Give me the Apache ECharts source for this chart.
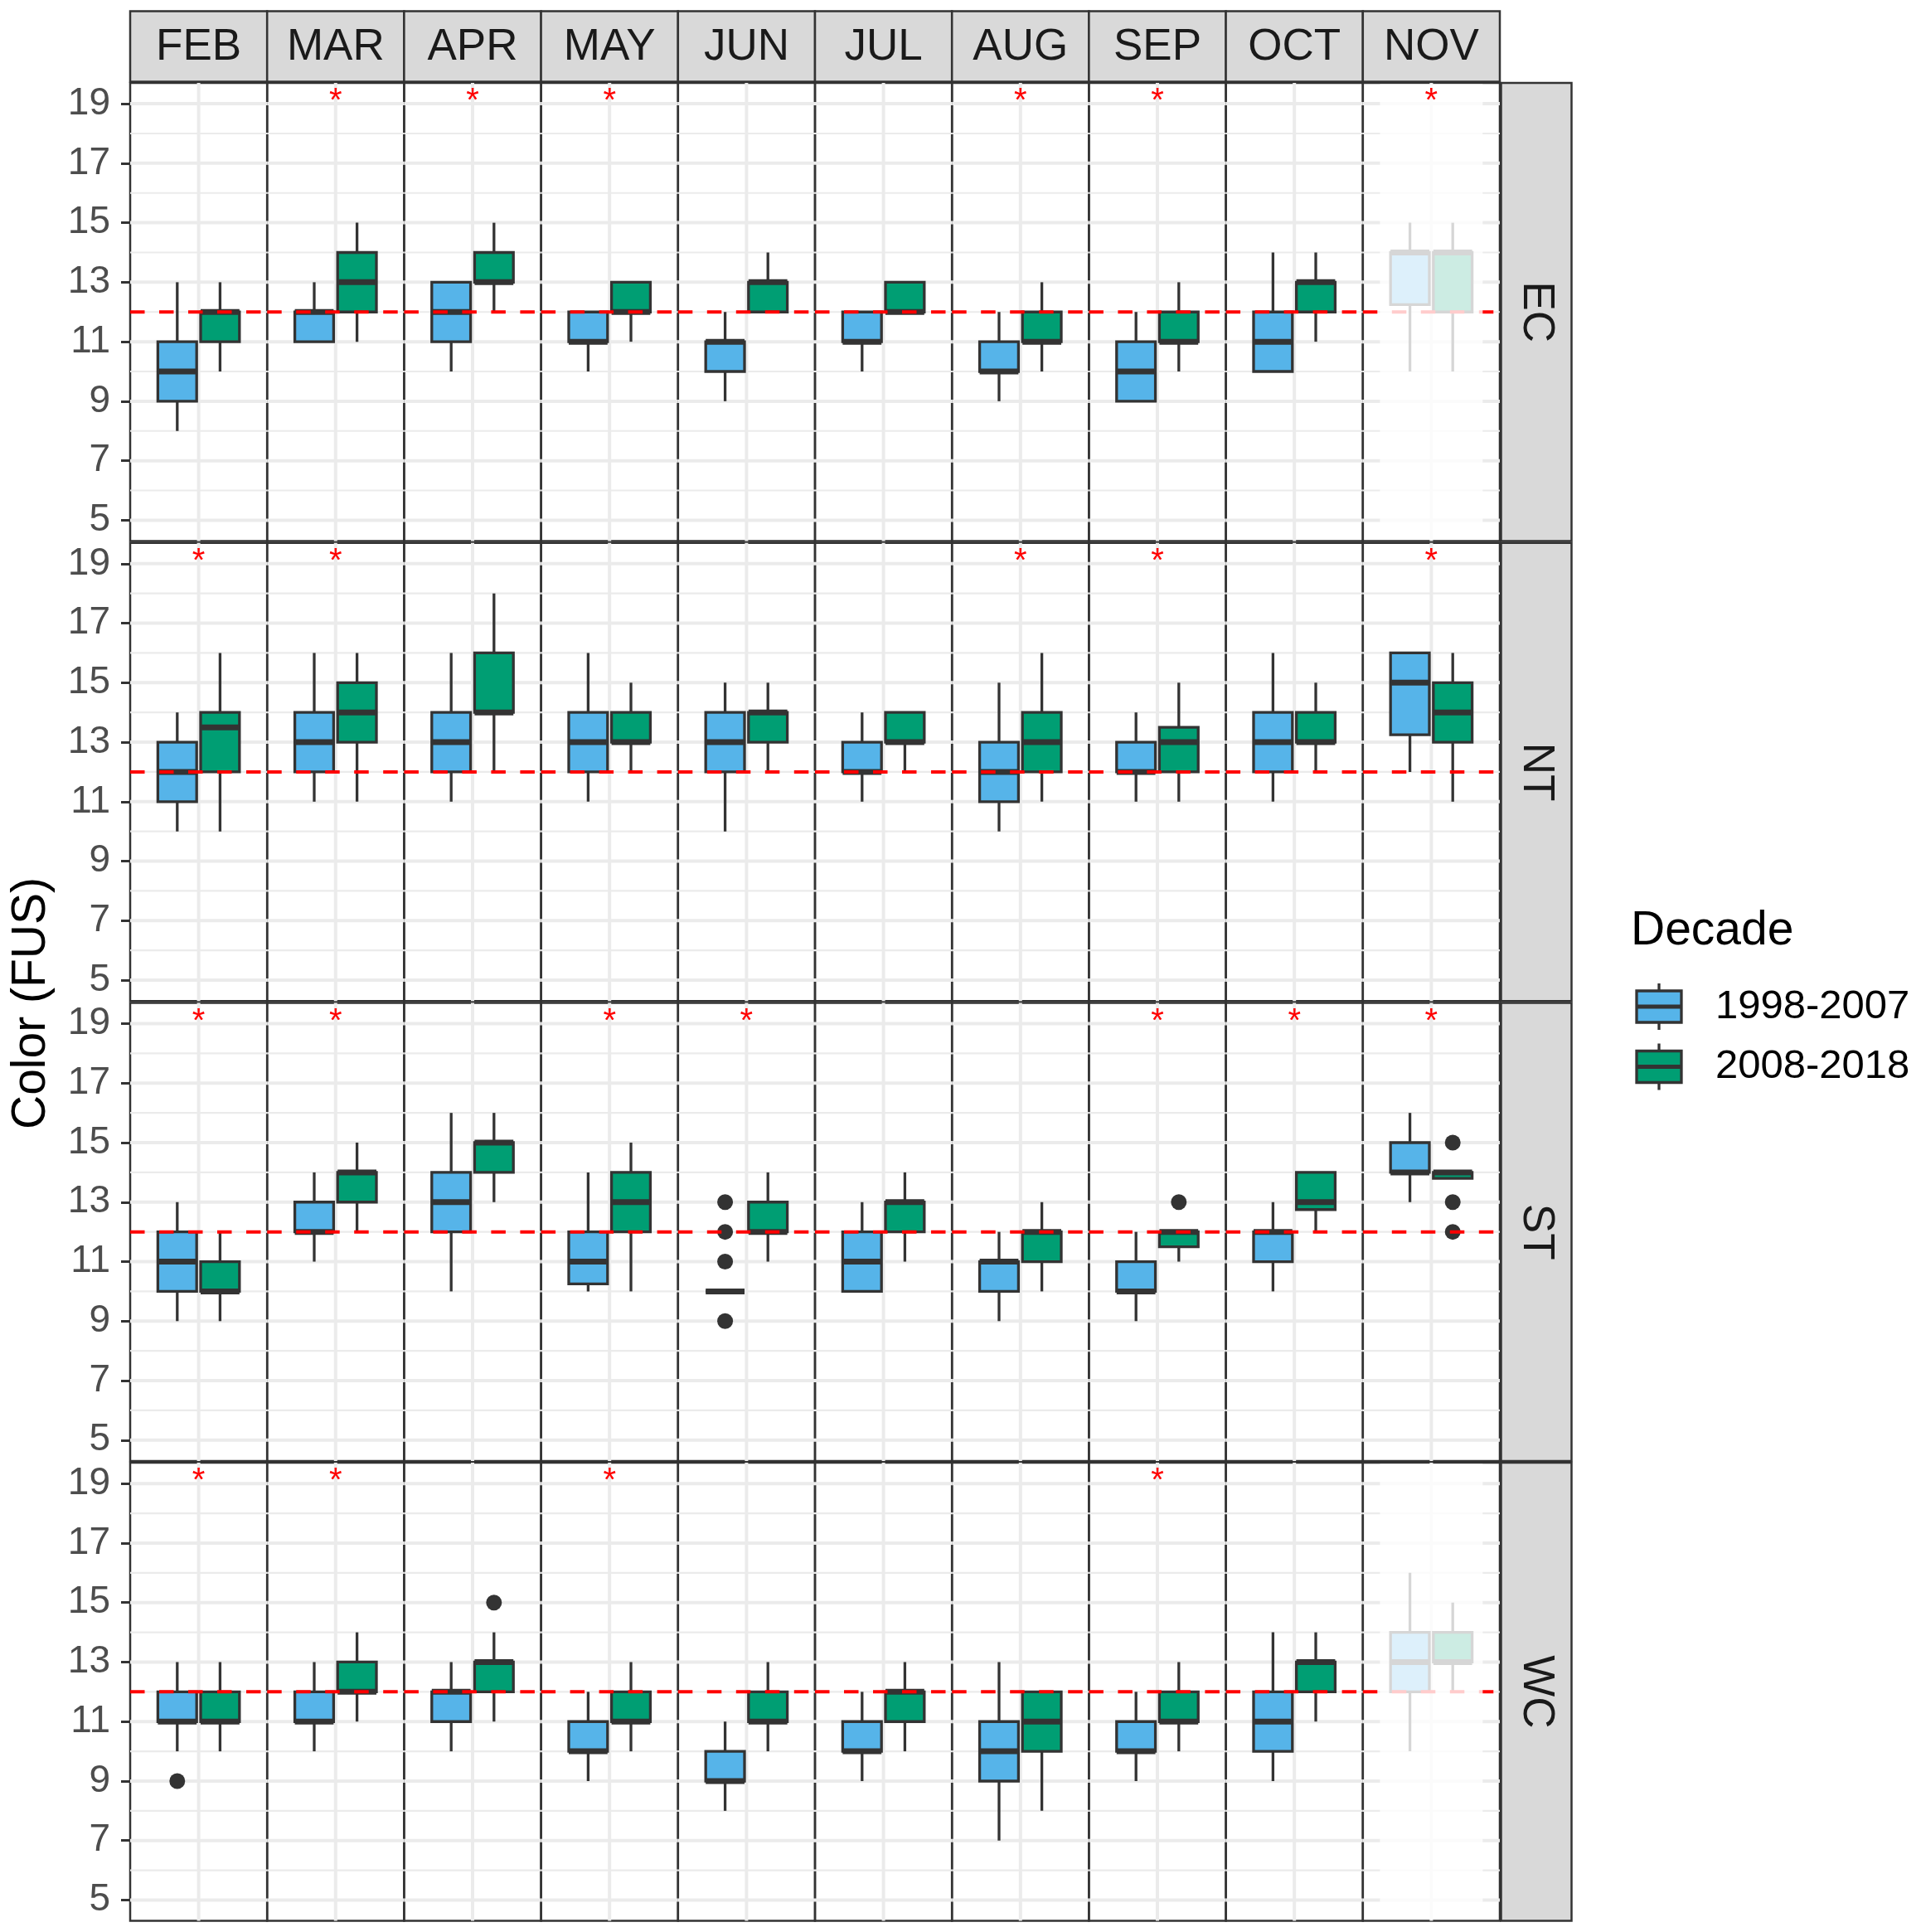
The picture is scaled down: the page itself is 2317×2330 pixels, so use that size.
<!DOCTYPE html>
<html>
<head>
<meta charset="utf-8">
<script src="https://cdn.jsdelivr.net/npm/echarts@6/dist/echarts.min.js"></script>
<style>
html, body { margin: 0; padding: 0; background: #ffffff; }
#chart { width: 2317px; height: 2330px; }
</style>
</head>
<body>
<div id="chart"></div>
<script>
// facet grid of boxplots: rows = regions, columns = months
var months = ['FEB', 'MAR', 'APR', 'MAY', 'JUN', 'JUL', 'AUG', 'SEP', 'OCT', 'NOV'];
var regions = ['EC', 'NT', 'ST', 'WC'];
var decades = ['1998-2007', '2008-2018'];
var decadeColors = ['#56B4E9', '#009E73'];

// per month: [lower whisker, Q1, median, Q3, upper whisker]
var ecEarly = [[8,9,10,11,13],[11,11,12,12,13],[10,11,12,13,13],[10,11,11,12,12],[9,10,11,11,12],[10,11,11,12,12],[9,10,10,11,12],[9,9,10,11,12],[10,10,11,12,14],[10,12.25,14,14,15]];
var ecLate  = [[10,11,12,12,13],[11,12,13,14,15],[12,13,13,14,15],[11,12,12,13,13],[12,12,13,13,14],[12,12,12,13,13],[10,11,11,12,13],[10,11,11,12,13],[11,12,13,13,14],[10,12,14,14,15]];
var ntEarly = [[10,11,12,13,14],[11,12,13,14,16],[11,12,13,14,16],[11,12,13,14,16],[10,12,13,14,15],[11,12,12,13,14],[10,11,12,13,15],[11,12,12,13,14],[11,12,13,14,16],[12,13.25,15,16,16]];
var ntLate  = [[10,12,13.5,14,16],[11,13,14,15,16],[12,14,14,16,18],[12,13,13,14,15],[12,13,14,14,15],[12,13,13,14,14],[11,12,13,14,16],[11,12,13,13.5,15],[12,13,13,14,15],[11,13,14,15,16]];
var stEarly = [[9,10,11,12,13],[11,12,12,13,14],[10,12,13,14,16],[10,10.25,11,12,14],[10,10,10,10,10],[10,10,11,12,13],[9,10,11,11,12],[9,10,10,11,12],[10,11,12,12,13],[13,14,14,15,16]];
var stLate  = [[9,10,10,11,12],[12,13,14,14,15],[13,14,15,15,16],[10,12,13,14,15],[11,12,12,13,14],[11,12,13,13,14],[10,11,12,12,13],[11,11.5,12,12,12],[12,12.75,13,14,14],[13.8,13.8,14,14,14]];
var wcEarly = [[10,11,11,12,13],[10,11,11,12,13],[10,11,12,12,13],[9,10,10,11,12],[8,9,9,10,11],[9,10,10,11,12],[7,9,10,11,13],[9,10,10,11,12],[9,10,11,12,14],[10,12,13,14,16]];
var wcLate  = [[10,11,11,12,13],[11,12,12,13,14],[11,12,13,13,14],[10,11,11,12,13],[10,11,11,12,13],[10,11,12,12,13],[8,10,11,12,12],[10,11,11,12,13],[11,12,13,13,14],[12,13,13,14,15]];

// outlying points: region, month, decade index, values
var outliers = [
    ['ST', 'JUN', 0, [9, 11, 12, 13]],
    ['ST', 'SEP', 1, [13]],
    ['ST', 'NOV', 1, [15, 13, 12]],
    ['WC', 'FEB', 0, [9]],
    ['WC', 'APR', 1, [15]]
];

// months marked with a significance star
var ecStars = ['MAR', 'APR', 'MAY', 'AUG', 'SEP', 'NOV'];
var ntStars = ['FEB', 'MAR', 'AUG', 'SEP', 'NOV'];
var stStars = ['FEB', 'MAR', 'MAY', 'JUN', 'SEP', 'OCT', 'NOV'];
var wcStars = ['FEB', 'MAR', 'MAY', 'SEP'];

// panels drawn washed out
var fadedPanels = [['EC', 'NOV'], ['WC', 'NOV']];

var yTicks = [5, 7, 9, 11, 13, 15, 17, 19];
var yMinor = [6, 8, 10, 12, 14, 16, 18];
var refLevel = 12;
var starLevel = 19;

var boxStats = { EC: [ecEarly, ecLate], NT: [ntEarly, ntLate], ST: [stEarly, stLate], WC: [wcEarly, wcLate] };
var stars = { EC: ecStars, NT: ntStars, ST: stStars, WC: wcStars };

// layout
var FONT = '"Liberation Sans", Arial, Helvetica, sans-serif';
var PL = 157, PT = 100, PW = 165.2, PH = 552.5, RS = 554.7;
var Y_MIN = 4.3, Y_MAX = 19.7;
var DODGE = 0.1875, BOX_HALF = 0.17;
var DARK = '#333333';

var chart = echarts.init(document.getElementById('chart'));

function renderGrid(params, api) {
    var cs = params.coordSys;
    var kind = api.value(2);
    if (kind === 2) {
        var px = api.coord([api.value(0), refLevel])[0];
        return { type: 'line', shape: { x1: px, y1: cs.y, x2: px, y2: cs.y + cs.height },
            style: { stroke: '#EBEBEB', lineWidth: 4 } };
    }
    var py = api.coord([1, api.value(1)])[1];
    return { type: 'line', shape: { x1: cs.x, y1: py, x2: cs.x + cs.width, y2: py },
        style: { stroke: '#EBEBEB', lineWidth: kind === 1 ? 4 : 2.2 } };
}

function renderBox(params, api) {
    var x = api.value(0);
    var k = api.value(6);
    var half = api.size([BOX_HALF, 0])[0];
    var lo = api.coord([x, api.value(1)]);
    var q1 = api.coord([x, api.value(2)]);
    var med = api.coord([x, api.value(3)]);
    var q3 = api.coord([x, api.value(4)]);
    var hi = api.coord([x, api.value(5)]);
    var px = lo[0];
    return {
        type: 'group',
        children: [
            { type: 'line', shape: { x1: px, y1: hi[1], x2: px, y2: lo[1] }, style: { stroke: DARK, lineWidth: 3.3 } },
            { type: 'rect', shape: { x: px - half, y: q3[1], width: 2 * half, height: q1[1] - q3[1] },
                style: { fill: decadeColors[k], stroke: DARK, lineWidth: 3.3 } },
            { type: 'line', shape: { x1: px - half, y1: med[1], x2: px + half, y2: med[1] }, style: { stroke: DARK, lineWidth: 7 } }
        ]
    };
}

function renderRef(params, api) {
    var cs = params.coordSys;
    var py = api.coord([1, api.value(1)])[1];
    return { type: 'line', shape: { x1: cs.x, y1: py, x2: cs.x + cs.width, y2: py },
        style: { stroke: '#FF0000', lineWidth: 4, lineDash: [17.5, 17.5] } };
}

function renderFade(params, api) {
    var cs = params.coordSys;
    var a = api.coord([api.value(0), refLevel]);
    var b = api.coord([api.value(1), refLevel]);
    return { type: 'rect', shape: { x: a[0], y: cs.y + 1.5, width: b[0] - a[0], height: cs.height - 3 },
        style: { fill: 'rgba(255,255,255,0.8)' } };
}

function renderStar(params, api) {
    var p = api.coord([api.value(0), api.value(1)]);
    return { type: 'text', x: p[0], y: p[1] - 2,
        style: { text: '*', fill: '#FF0000', fontSize: 40, fontFamily: FONT, align: 'center', verticalAlign: 'middle' } };
}

var grids = [], xAxes = [], yAxes = [], series = [], graphics = [];

var gridData = yMinor.map(function (v) { return [1, v, 0]; })
    .concat(yTicks.map(function (v) { return [1, v, 1]; }))
    .concat([[1, refLevel, 2]]);

regions.forEach(function (reg, r) {
    months.forEach(function (mon, c) {
        var gi = r * months.length + c;
        var first = c === 0;
        grids.push({ left: PL + c * PW, top: PT + r * RS, width: PW, height: PH,
            show: true, borderColor: DARK, borderWidth: 2.5, backgroundColor: 'transparent' });
        xAxes.push({ type: 'value', gridIndex: gi, min: 0.4, max: 1.6, show: false });
        yAxes.push({
            type: 'value', gridIndex: gi, min: Y_MIN, max: Y_MAX, show: first,
            axisLine: { show: false },
            splitLine: { show: false },
            axisTick: { show: first, customValues: yTicks, length: 11, lineStyle: { color: DARK, width: 3 } },
            axisLabel: { show: first, customValues: yTicks, margin: 24, fontSize: 46, color: '#4D4D4D', fontFamily: FONT }
        });

        series.push({ type: 'custom', xAxisIndex: gi, yAxisIndex: gi, z: 1, silent: true,
            encode: { x: 0, y: 1 }, data: gridData, renderItem: renderGrid });

        var st = boxStats[reg];
        var boxData = [
            [1 - DODGE].concat(st[0][c]).concat([0]),
            [1 + DODGE].concat(st[1][c]).concat([1])
        ];
        series.push({ type: 'custom', xAxisIndex: gi, yAxisIndex: gi, z: 3, silent: true,
            encode: { x: 0, y: [1, 2, 3, 4, 5] }, data: boxData, renderItem: renderBox });

        var pts = [];
        outliers.forEach(function (o) {
            if (o[0] === reg && o[1] === mon) {
                o[3].forEach(function (v) { pts.push([o[2] === 0 ? 1 - DODGE : 1 + DODGE, v]); });
            }
        });
        if (pts.length) {
            series.push({ type: 'scatter', xAxisIndex: gi, yAxisIndex: gi, z: 3, silent: true,
                symbolSize: 19, itemStyle: { color: DARK, opacity: 1 }, data: pts });
        }

        series.push({ type: 'custom', xAxisIndex: gi, yAxisIndex: gi, z: 4, silent: true,
            encode: { x: 0, y: 1 }, data: [[1, refLevel]], renderItem: renderRef });

        var faded = fadedPanels.some(function (f) { return f[0] === reg && f[1] === mon; });
        if (faded) {
            series.push({ type: 'custom', xAxisIndex: gi, yAxisIndex: gi, z: 5, silent: true,
                encode: { x: [0, 1] }, data: [[0.55, 1.45]], renderItem: renderFade });
        }

        if (stars[reg].indexOf(mon) >= 0) {
            series.push({ type: 'custom', xAxisIndex: gi, yAxisIndex: gi, z: 6, silent: true,
                encode: { x: 0, y: 1 }, data: [[1, starLevel]], renderItem: renderStar });
        }
    });
});

// column strips
months.forEach(function (mon, c) {
    graphics.push({ type: 'rect', shape: { x: PL + c * PW, y: 13.5, width: PW, height: 85 },
        style: { fill: '#D9D9D9', stroke: DARK, lineWidth: 2.5 } });
    graphics.push({ type: 'text', x: PL + c * PW + PW / 2, y: 57,
        style: { text: mon, fontSize: 53, fontFamily: FONT, fill: '#1A1A1A', align: 'center', verticalAlign: 'middle' } });
});

// row strips
var stripX = PL + months.length * PW + 1.5;
regions.forEach(function (reg, r) {
    graphics.push({ type: 'rect', shape: { x: stripX, y: PT + r * RS, width: 85, height: PH },
        style: { fill: '#D9D9D9', stroke: DARK, lineWidth: 2.5 } });
    graphics.push({ type: 'text', x: stripX + 42.5, y: PT + r * RS + PH / 2, rotation: -Math.PI / 2,
        style: { text: reg, fontSize: 53, fontFamily: FONT, fill: '#1A1A1A', align: 'center', verticalAlign: 'middle' } });
});

// y axis title
graphics.push({ type: 'text', x: 38, y: 1210, rotation: Math.PI / 2,
    style: { text: 'Color (FUS)', fontSize: 57, fontFamily: FONT, fill: '#000000', align: 'center', verticalAlign: 'middle' } });

// legend
graphics.push({ type: 'text', x: 1967, y: 1123,
    style: { text: 'Decade', fontSize: 57, fontFamily: FONT, fill: '#000000', align: 'left', verticalAlign: 'middle' } });
decades.forEach(function (d, k) {
    var yc = 1214 + k * 72.5;
    graphics.push({ type: 'line', shape: { x1: 2001, y1: yc - 28, x2: 2001, y2: yc + 28 }, style: { stroke: DARK, lineWidth: 3.3 } });
    graphics.push({ type: 'rect', shape: { x: 1974, y: yc - 19, width: 54, height: 38 },
        style: { fill: decadeColors[k], stroke: DARK, lineWidth: 3.3 } });
    graphics.push({ type: 'line', shape: { x1: 1974, y1: yc, x2: 2028, y2: yc }, style: { stroke: DARK, lineWidth: 5 } });
    graphics.push({ type: 'text', x: 2069, y: yc,
        style: { text: d, fontSize: 49, fontFamily: FONT, fill: '#000000', align: 'left', verticalAlign: 'middle' } });
});

chart.setOption({
    animation: false,
    backgroundColor: '#ffffff',
    tooltip: { show: false },
    grid: grids,
    xAxis: xAxes,
    yAxis: yAxes,
    series: series,
    graphic: graphics
});
</script>
</body>
</html>
